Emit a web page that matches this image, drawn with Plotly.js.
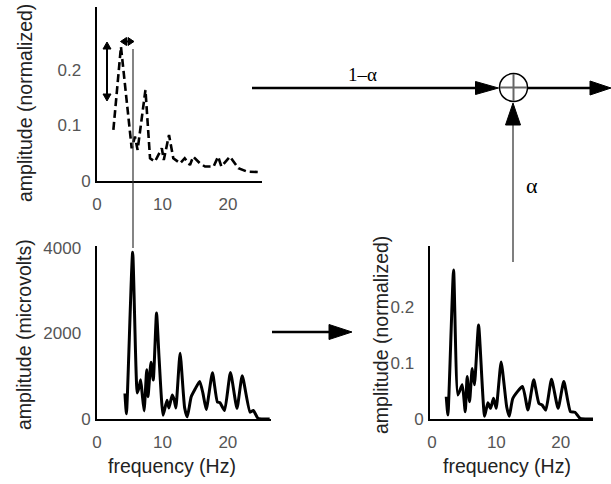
<!DOCTYPE html>
<html>
<head>
<meta charset="utf-8">
<script src="https://cdn.plot.ly/plotly-3.0.1.min.js"></script>
<style>html,body{margin:0;padding:0;background:#fff;}#chart{width:611px;height:484px;}</style>
</head>
<body>
<div id="chart"></div>
<script>
// ---- data ----
// top-left: previous normalized spectrum (dashed)
const prevFreq = [2.5, 3.66, 5.3, 5.8, 6.2, 7.4, 8.1, 8.85, 9.9, 10.2, 11.0, 11.65, 12.7, 13.4, 14.2, 14.7, 15.7, 16.5, 17.8, 18.5, 19.0, 20.3, 21.6, 22.9, 24.9];
const prevAmp  = [0.092, 0.242, 0.059, 0.080, 0.056, 0.164, 0.041, 0.035, 0.059, 0.038, 0.083, 0.041, 0.032, 0.041, 0.029, 0.044, 0.032, 0.026, 0.026, 0.044, 0.026, 0.044, 0.023, 0.017, 0.016];
// bottom-left: raw spectrum (microvolts)
const rawFreq = [4.27, 4.5, 5.45, 6.15, 6.4, 6.67, 6.9, 7.2, 7.6, 7.8, 8.25, 8.6, 9.1, 9.5, 10.1, 10.7, 11.0, 11.5, 11.8, 12.06, 12.7, 13.4, 13.8, 14.4, 15.0, 15.7, 16.2, 16.7, 17.65, 18.4, 18.8, 19.5, 20.4, 21.4, 22.2, 23.4, 23.9, 24.6, 25.5, 26.4];
const rawAmp  = [600, 120, 3900, 610, 720, 920, 600, 190, 1150, 520, 1330, 910, 2480, 1400, 90, 440, 260, 560, 450, 260, 1540, 260, 50, 520, 700, 880, 600, 220, 1080, 400, 380, 200, 1090, 250, 1010, 160, 200, 20, 0, 0];
// bottom-right: new normalized spectrum
const newFreq = [2.22, 2.48, 3.36, 4.03, 4.7, 5.17, 5.47, 5.84, 6.25, 6.6, 7.24, 8.17, 8.68, 9.1, 9.56, 9.97, 10.74, 11.6, 12.0, 12.56, 14.06, 14.9, 15.8, 16.6, 17.1, 17.67, 18.56, 19.58, 20.47, 21.5, 22.2, 23.0, 25.0];
const newAmp  = [0.040, 0.007, 0.266, 0.043, 0.061, 0.013, 0.076, 0.031, 0.090, 0.061, 0.168, 0.005, 0.029, 0.019, 0.037, 0.019, 0.102, 0.022, 0.005, 0.037, 0.058, 0.016, 0.070, 0.028, 0.025, 0.016, 0.071, 0.019, 0.067, 0.013, 0.012, 0.001, 0];
const xTicks = [0, 10, 20];
const normTicks = [0, 0.1, 0.2];
const normTickText = ['0', '0.1\u2007', '0.2\u2007'];
const uvTicks = [0, 2000, 4000];
const uvTickText = ['0', '2000\u2007', '4000\u2007'];
const yTitleNorm = 'amplitude (normalized)';
const yTitleUv = 'amplitude (microvolts)';
const xTitle = 'frequency (Hz)';
const gainPrev = '1\u2013\u03b1';
const gainNew = '\u03b1';

// ---- layout helpers ----
const W = 611, H = 484;
const px = x => x / W;
const py = y => 1 - y / H;

const tickFont = {family: 'Liberation Sans, Arial, sans-serif', size: 17, color: '#555'};
const titleFont = {family: 'Liberation Sans, Arial, sans-serif', size: 19.5, color: '#222'};

function xax(d0, d1, r, anchor) {
  return {domain: [px(d0), px(d1)], range: r, anchor: anchor, tickvals: xTicks, showline: true, linewidth: 2,
    linecolor: '#000', ticks: '', showgrid: false, zeroline: false, tickfont: tickFont, ticklabelstandoff: 7, fixedrange: true};
}
function yax(top, bottom, r, vals, text, anchor) {
  return {domain: [py(bottom), py(top)], range: r, anchor: anchor, tickvals: vals, ticktext: text, showline: true, linewidth: 2,
    linecolor: '#000', ticks: '', showgrid: false, zeroline: false, tickfont: tickFont, ticklabelstandoff: 1, fixedrange: true};
}

const traces = [
  {x: prevFreq, y: prevAmp, xaxis: 'x', yaxis: 'y', mode: 'lines', line: {color: '#000', width: 2.6, dash: '8px,4px'}},
  {x: rawFreq, y: rawAmp, xaxis: 'x2', yaxis: 'y2', mode: 'lines', line: {color: '#000', width: 3, shape: 'spline', smoothing: 0.5}},
  {x: newFreq, y: newAmp, xaxis: 'x3', yaxis: 'y3', mode: 'lines', line: {color: '#000', width: 3, shape: 'spline', smoothing: 0.5}}
];

function tri(tipX, tipY, dir, len, half) {
  let p;
  if (dir === 'right') p = [[tipX, tipY], [tipX - len, tipY - half], [tipX - len, tipY + half]];
  else if (dir === 'left') p = [[tipX, tipY], [tipX + len, tipY - half], [tipX + len, tipY + half]];
  else if (dir === 'up') p = [[tipX, tipY], [tipX - half, tipY + len], [tipX + half, tipY + len]];
  else p = [[tipX, tipY], [tipX - half, tipY - len], [tipX + half, tipY - len]];
  const d = 'M' + p.map(q => px(q[0]) + ',' + py(q[1])).join(' L') + ' Z';
  return {type: 'path', xref: 'paper', yref: 'paper', path: d, fillcolor: '#000', line: {color: '#000', width: 1}};
}
function seg(x0, y0, x1, y1, color, width) {
  return {type: 'line', xref: 'paper', yref: 'paper', x0: px(x0), y0: py(y0), x1: px(x1), y1: py(y1), line: {color: color, width: width}};
}

const shapes = [
  // thin vertical marker line through top and bottom-left plots
  seg(133, 49, 133, 248, '#333', 1.2),
  // vertical double arrow
  seg(107, 46, 107, 97, '#000', 2),
  tri(107, 42, 'up', 7, 4), tri(107, 101, 'down', 7, 4),
  // horizontal double arrow
  seg(124, 41.5, 130, 41.5, '#000', 2),
  tri(120.5, 41.5, 'left', 6, 4), tri(134, 41.5, 'right', 6, 4),
  // 1-alpha arrow
  seg(252, 88, 478, 88, '#000', 2.5),
  tri(498.5, 88, 'right', 23, 6.5),
  // sum node
  {type: 'circle', xref: 'paper', yref: 'paper', x0: px(499.5), x1: px(527.5), y0: py(73.5), y1: py(101.5), line: {color: '#000', width: 1.5}},
  seg(500, 87.5, 527, 87.5, '#666', 2),
  seg(513.5, 74, 513.5, 101, '#666', 2),
  // output arrow
  seg(528, 88, 592, 88, '#000', 2.5),
  tri(611, 88, 'right', 21, 7),
  // alpha arrow (vertical)
  seg(513, 262, 513, 123, '#555', 1.5),
  tri(513, 103, 'up', 22, 7.5),
  // middle arrow
  seg(272, 332, 331, 332, '#000', 2.5),
  tri(352, 332, 'right', 23, 7.5)
];

const annotations = [
  {xref: 'paper', yref: 'paper', x: px(25), y: py(103), text: yTitleNorm, textangle: -90, showarrow: false, font: titleFont, xanchor: 'center', yanchor: 'middle'},
  {xref: 'paper', yref: 'paper', x: px(24), y: py(335), text: yTitleUv, textangle: -90, showarrow: false, font: titleFont, xanchor: 'center', yanchor: 'middle'},
  {xref: 'paper', yref: 'paper', x: px(381), y: py(335), text: yTitleNorm, textangle: -90, showarrow: false, font: titleFont, xanchor: 'center', yanchor: 'middle'},
  {xref: 'paper', yref: 'paper', x: px(172), y: py(466), text: xTitle, showarrow: false, font: titleFont, xanchor: 'center', yanchor: 'middle'},
  {xref: 'paper', yref: 'paper', x: px(507), y: py(466), text: xTitle, showarrow: false, font: titleFont, xanchor: 'center', yanchor: 'middle'},
  {xref: 'paper', yref: 'paper', x: px(362), y: py(75), text: gainPrev, showarrow: false, font: {family: 'Liberation Serif, Times New Roman, serif', size: 19, color: '#000'}, xanchor: 'center', yanchor: 'middle'},
  {xref: 'paper', yref: 'paper', x: px(532), y: py(185), text: gainNew, showarrow: false, font: {family: 'Liberation Serif, Times New Roman, serif', size: 22, color: '#000'}, xanchor: 'center', yanchor: 'middle'}
];

const layout = {
  width: W, height: H,
  margin: {l: 0, r: 0, t: 0, b: 0, pad: 0},
  paper_bgcolor: '#fff', plot_bgcolor: 'rgba(0,0,0,0)',
  showlegend: false,
  xaxis: xax(97, 262, [0, 25.2], 'y'),
  yaxis: yax(7, 181, [0, 0.3135], normTicks, normTickText, 'x'),
  xaxis2: xax(97, 271, [0, 26.6], 'y2'),
  yaxis2: yax(246, 419, [0, 4047], uvTicks, uvTickText, 'x2'),
  xaxis3: xax(430, 593, [-0.3, 25.0], 'y3'),
  yaxis3: yax(246, 419, [0, 0.309], normTicks, normTickText, 'x3'),
  shapes: shapes,
  annotations: annotations
};

Plotly.newPlot('chart', traces, layout, {staticPlot: true, displayModeBar: false});
</script>
</body>
</html>
